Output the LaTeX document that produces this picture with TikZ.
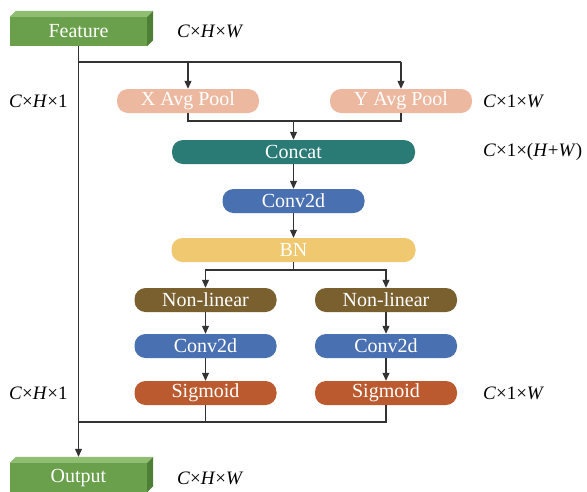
\documentclass[tikz,border=0pt]{standalone}
\usepackage{fontspec}
\setmainfont{Liberation Serif}
\usetikzlibrary{arrows.meta}
\definecolor{gfront}{HTML}{6A9F4C}
\definecolor{gtop}{HTML}{8FBE72}
\definecolor{gside}{HTML}{4E7F37}
\definecolor{cpool}{HTML}{EDB8A0}
\definecolor{ccat}{HTML}{2A7B75}
\definecolor{cconv}{HTML}{4970B0}
\definecolor{cbn}{HTML}{EFC870}
\definecolor{cnl}{HTML}{7A5F2F}
\definecolor{csig}{HTML}{BB5A2E}
\definecolor{cline}{HTML}{333333}
\tikzset{
  pill/.style={rectangle, rounded corners=11pt, minimum height=24pt, inner sep=0pt,
    text=white, font=\fontsize{20}{22}\selectfont},
  box3d/.style={rectangle, minimum height=29pt, minimum width=137pt, inner sep=0pt,
    fill=gfront, text=white, font=\fontsize{20}{22}\selectfont},
  lab/.style={anchor=west, inner sep=0pt, font=\fontsize{19}{21}\selectfont},
  ln/.style={draw=cline, line width=1.1pt},
  arr/.style={ln, -{Triangle[length=8pt,width=7pt]}}
}
\begin{document}
\begin{tikzpicture}[x=1pt,y=-1pt]
\useasboundingbox (0,0) rectangle (587,491);
% 3D boxes
\node[box3d] (feat) at (78.5,31.5) {Feature};
\fill[gtop] (feat.north west) -- ++(6,-6) -- ([shift={(6,-6)}]feat.north east) -- (feat.north east) -- cycle;
\fill[gside] (feat.north east) -- ++(6,-6) -- ([shift={(6,-6)}]feat.south east) -- (feat.south east) -- cycle;
\node[box3d] (out) at (78.5,477.5) {Output};
\fill[gtop] (out.north west) -- ++(6,-6) -- ([shift={(6,-6)}]out.north east) -- (out.north east) -- cycle;
\fill[gside] (out.north east) -- ++(6,-6) -- ([shift={(6,-6)}]out.south east) -- (out.south east) -- cycle;
% pills
\node[pill, fill=cpool, minimum width=142pt] (xp) at (188,101) {X Avg Pool};
\node[pill, fill=cpool, minimum width=142pt] (yp) at (401,101) {Y Avg Pool};
\node[pill, fill=ccat, minimum width=243pt] (cat) at (293.5,152) {Concat};
\node[pill, fill=cconv, minimum width=142pt] (cv) at (293.5,201) {Conv2d};
\node[pill, fill=cbn, minimum width=244pt] (bn) at (293.5,250) {BN};
\node[pill, fill=cnl, minimum width=142pt] (nl1) at (205.5,300) {Non-linear};
\node[pill, fill=cnl, minimum width=142pt] (nl2) at (386,300) {Non-linear};
\node[pill, fill=cconv, minimum width=142pt] (c1) at (205.5,346) {Conv2d};
\node[pill, fill=cconv, minimum width=142pt] (c2) at (386,346) {Conv2d};
\node[pill, fill=csig, minimum width=142pt] (s1) at (205.5,393) {Sigmoid};
\node[pill, fill=csig, minimum width=142pt] (s2) at (386,393) {Sigmoid};
% junctions
\coordinate (j1) at (78,62);
\coordinate (j2) at (293.5,121);
\coordinate (j3) at (293.5,270);
\coordinate (j4) at (78,422);
% connectors
\draw[arr] (feat.south) -- ([yshift=6pt]out.north);
\draw[ln] (j1) -- (yp.north |- j1);
\draw[arr] (xp.north |- j1) -- (xp.north);
\draw[arr] (yp.north |- j1) -- (yp.north);
\draw[ln] (xp.south) |- (j2);
\draw[ln] (yp.south) |- (j2);
\draw[arr] (j2) -- (cat.north);
\draw[arr] (cat.south) -- (cv.north);
\draw[arr] (cv.south) -- (bn.north);
\draw[ln] (bn.south) -- (j3);
\draw[arr] (j3) -| (nl1.north);
\draw[arr] (j3) -| (nl2.north);
\draw[arr] (nl1.south) -- (c1.north);
\draw[arr] (nl2.south) -- (c2.north);
\draw[arr] (c1.south) -- (s1.north);
\draw[arr] (c2.south) -- (s2.north);
\draw[ln] (s2.south) |- (j4);
\draw[ln] (s1.south) -- (s1.south |- j4);
% labels
\node[lab] (l1) at (177,31) {\textit{C}×\textit{H}×\textit{W}};
\node[lab] (l2) at (9,101) {\textit{C}×\textit{H}×1};
\node[lab] (l3) at (483,101) {\textit{C}×1×\textit{W}};
\node[lab] (l4) at (483,152) {\textit{C}×1×(\textit{H}+\textit{W})};
\node[lab] (l5) at (9,393) {\textit{C}×\textit{H}×1};
\node[lab] (l6) at (483,393) {\textit{C}×1×\textit{W}};
\node[lab] (l7) at (177,478) {\textit{C}×\textit{H}×\textit{W}};
\end{tikzpicture}
\end{document}
